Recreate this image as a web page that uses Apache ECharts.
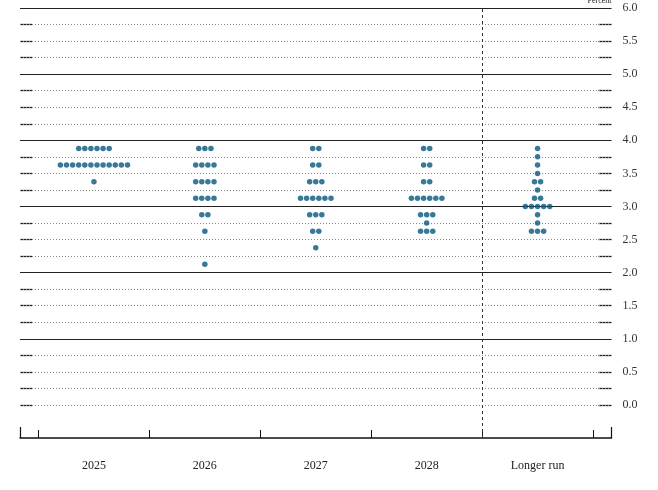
<!DOCTYPE html>
<html><head><meta charset="utf-8">
<script src="https://cdn.jsdelivr.net/npm/echarts@6/dist/echarts.min.js"></script>
<style>html,body{margin:0;padding:0;background:#fff}#c{width:658px;height:490px}</style>
</head><body><div id="c"></div><script>
const categories = ['2025', '2026', '2027', '2028', 'Longer run'];
// [rate midpoint, number of participants]
const dots2025 = [[3.875, 6], [3.625, 12], [3.375, 1]];
const dots2026 = [[3.875, 3], [3.625, 4], [3.375, 4], [3.125, 4], [2.875, 2], [2.625, 1], [2.125, 1]];
const dots2027 = [[3.875, 2], [3.625, 2], [3.375, 3], [3.125, 6], [2.875, 3], [2.625, 2], [2.375, 1]];
const dots2028 = [[3.875, 2], [3.625, 2], [3.375, 2], [3.125, 6], [2.875, 3], [2.75, 1], [2.625, 3]];
const dotsLonger = [[3.875, 1], [3.75, 1], [3.625, 1], [3.5, 1], [3.375, 2], [3.25, 1], [3.125, 2], [3.0, 5], [2.875, 1], [2.75, 1], [2.625, 3]];
const yTickLabels = [0, 0.5, 1, 1.5, 2, 2.5, 3, 3.5, 4, 4.5, 5, 5.5, 6];
const minorGrid = [0, 0.25, 0.5, 0.75, 1.25, 1.5, 1.75, 2.25, 2.5, 2.75, 3.25, 3.5, 3.75, 4.25, 4.5, 4.75, 5.25, 5.5, 5.75];
const majorGrid = [1, 2, 3, 4, 5, 6];
const boundaries = [-0.5, 0.5, 1.5, 2.5, 3.5, 4.5];
const longerRunDivider = 3.5;

const columns = [dots2025, dots2026, dots2027, dots2028, dotsLonger];
const DOT_GAP = 6.1;
const points = [];
columns.forEach((col, i) => {
  col.forEach(([v, n]) => {
    for (let j = 0; j < n; j++) {
      points.push({ value: [i, v], symbolOffset: [(j - (n - 1) / 2) * DOT_GAP, 0] });
    }
  });
});

const serif = 'Liberation Serif';
const xMin = -2 / 3, xMax = 14 / 3;
const chart = echarts.init(document.getElementById('c'));
chart.setOption({
  animation: false,
  backgroundColor: '#fff',
  grid: { left: 20, right: 46.5, top: 8, bottom: 52, containLabel: false, outerBoundsMode: 'none' },
  xAxis: [
    {
      type: 'value', min: xMin, max: xMax, position: 'bottom',
      axisLine: { show: true, onZero: false, lineStyle: { color: '#111', width: 1.5 } },
      axisTick: { show: true, inside: true, length: 8, customValues: boundaries, lineStyle: { color: '#111', width: 1 } },
      axisLabel: { customValues: [0, 1, 2, 3, 4], formatter: v => categories[Math.round(v)], margin: 22, fontFamily: serif, fontSize: 12, color: '#222' },
      splitLine: { show: false }
    },
    {
      type: 'value', min: xMin, max: xMax, position: 'bottom',
      axisLine: { show: false, onZero: false },
      axisTick: { show: true, inside: true, length: 11, customValues: [xMin, xMax], lineStyle: { color: '#111', width: 1.2 } },
      axisLabel: { show: false },
      splitLine: { show: false }
    }
  ],
  yAxis: [
    {
      type: 'value', min: -0.5, max: 6, position: 'left',
      axisLine: { show: false, onZero: false },
      axisTick: { show: true, inside: true, length: 12, customValues: minorGrid, lineStyle: { color: '#222', width: 1.3 } },
      axisLabel: { show: false },
      splitLine: { show: false }
    },
    {
      type: 'value', min: -0.5, max: 6, position: 'right',
      name: 'Percent', nameLocation: 'end', nameGap: 3,
      nameTextStyle: { fontFamily: serif, fontSize: 8, color: '#222', align: 'right', verticalAlign: 'bottom', padding: [0, 0, 0, 0] },
      axisLine: { show: false, onZero: false },
      axisTick: { show: true, inside: true, length: 13, customValues: minorGrid, lineStyle: { color: '#222', width: 1.3 } },
      axisLabel: { customValues: yTickLabels, formatter: v => v.toFixed(1), margin: 11, fontFamily: serif, fontSize: 12, color: '#333' },
      splitLine: { show: false }
    }
  ],
  series: [
    {
      type: 'scatter', xAxisIndex: 0, yAxisIndex: 0, data: [], z: 1, silent: true,
      markLine: {
        silent: true, symbol: 'none', label: { show: false },
        data: [
          ...minorGrid.map(v => ({ yAxis: v, lineStyle: { color: '#888', width: 1, type: [1, 2] } })),
          ...majorGrid.map(v => ({ yAxis: v, lineStyle: { color: '#222', width: 1.2, type: 'solid' } })),
          { xAxis: longerRunDivider, lineStyle: { color: '#333', width: 1, type: [3, 3] } }
        ]
      }
    },
    {
      type: 'scatter', xAxisIndex: 0, yAxisIndex: 0, z: 5, silent: true,
      symbol: 'circle', symbolSize: 5.5,
      itemStyle: { color: '#08587e' },
      data: points
    }
  ]
});
</script></body></html>
